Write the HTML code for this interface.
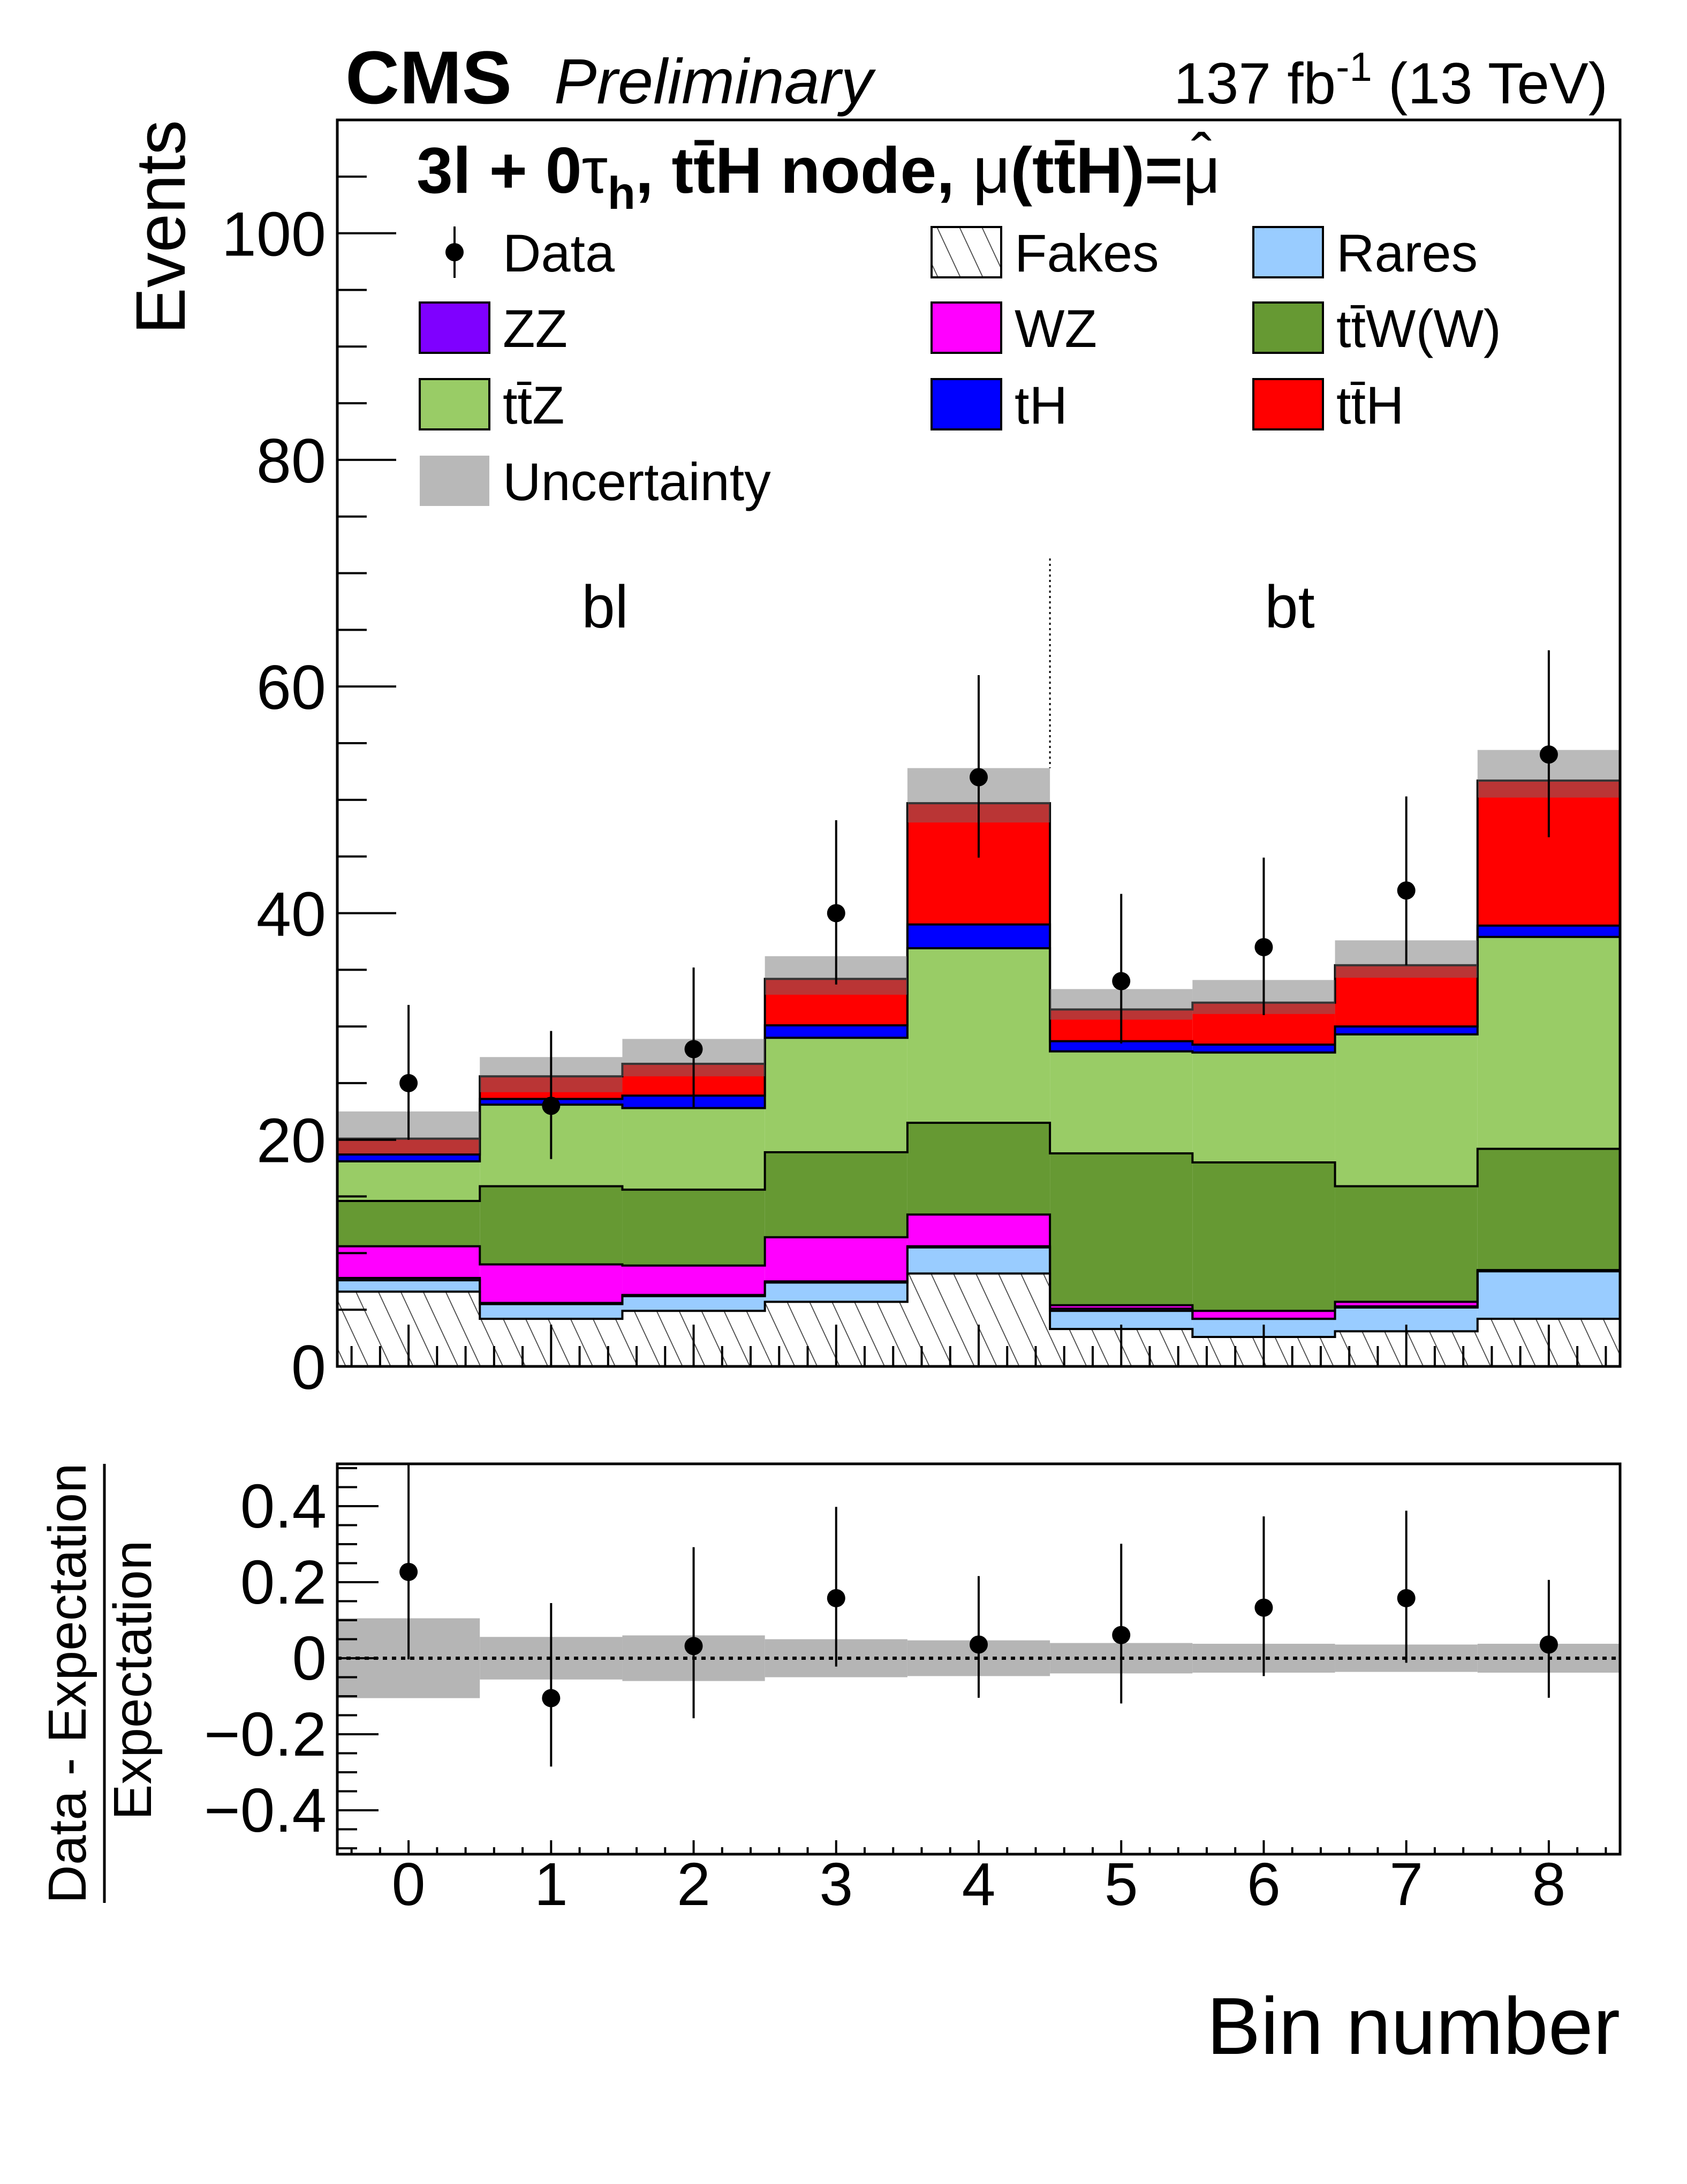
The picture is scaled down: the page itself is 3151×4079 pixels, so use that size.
<!DOCTYPE html>
<html><head><meta charset="utf-8">
<style>
html,body{margin:0;padding:0;background:#fff;}
svg{display:block;font-family:"Liberation Sans",sans-serif;}
</style></head>
<body>
<svg id="chart" width="3151" height="4079" viewBox="0 0 3151 4079" xmlns="http://www.w3.org/2000/svg">
<defs>
<pattern id="hatch" patternUnits="userSpaceOnUse" width="38" height="38" patternTransform="rotate(-25)">
<rect width="38" height="38" fill="#fff"/>
<line x1="0" y1="0" x2="0" y2="38" stroke="#444" stroke-width="3.5"/>
</pattern>
<clipPath id="mainclip"><rect x="630" y="224" width="2396" height="2328"/></clipPath>
<clipPath id="ratioclip"><rect x="630" y="2734" width="2396" height="729"/></clipPath>
</defs>
<g id="main"></g>
<g id="ratio"></g>
<g id="texts">
<text x="645" y="193" font-size="140" font-weight="bold">CMS</text>
<text x="1035" y="193" font-size="119" font-style="italic">Preliminary</text>
<text x="3003" y="193" font-size="109" text-anchor="end">137 fb<tspan dy="-42" font-size="76">-1</tspan><tspan dy="42"> (13 TeV)</tspan></text>
<text id="title" x="778" y="360" font-size="122" font-weight="bold">3l + 0<tspan font-weight="normal">τ</tspan><tspan dy="30" font-size="85">h</tspan><tspan dy="-30">, tt̄H node, </tspan><tspan font-weight="normal">μ</tspan>(tt̄H)=<tspan id="lastmu" font-weight="normal">μ</tspan></text>
<text id="muhat" x="2245" y="330" font-size="115" text-anchor="middle">ˆ</text>
<text x="1130" y="1172" font-size="112" text-anchor="middle">bl</text>
<text x="2409" y="1172" font-size="112" text-anchor="middle">bt</text>
<text transform="translate(345,224) rotate(-90)" font-size="131" text-anchor="end">Events</text>
<text x="3026" y="3836" font-size="151" text-anchor="end">Bin number</text>
<g>
<text transform="translate(160,3144) rotate(-90)" font-size="100" text-anchor="middle">Data - Expectation</text>
<line x1="195" y1="2734" x2="195" y2="3554" stroke="#000" stroke-width="5"/>
<text transform="translate(282,3138) rotate(-90)" font-size="100" text-anchor="middle">Expectation</text>
</g>
</g>
<g id="legend"></g>
</svg>
<script>
const bins = [0,1,2,3,4,5,6,7,8];
const fakes = [6.6,4.2,4.9,5.7,8.2,3.3,2.6,3.1,4.2];
const rares = [1.0,1.3,1.3,1.7,2.3,1.6,1.6,2.1,4.2];
const zz    = [0.2,0.1,0.1,0.1,0.1,0.2,0.0,0.1,0.0];
const wz    = [2.8,3.4,2.6,3.9,2.8,0.3,0.7,0.4,0.1];
const ttw   = [4.0,6.9,6.7,7.5,8.1,13.4,13.1,10.2,10.7];
const ttz   = [3.5,7.2,7.2,10.1,15.4,9.0,9.7,13.4,18.7];
const th    = [0.6,0.5,1.1,1.1,2.1,0.9,0.7,0.7,1.0];
const tth   = [1.4,2.0,2.8,4.1,10.7,2.8,3.7,5.4,12.8];
const uncUp = [2.4,1.7,2.2,2.0,3.1,1.8,2.0,2.2,2.7];
const uncDn = [1.3,1.4,1.1,1.4,1.7,0.9,1.0,1.1,1.5];
const dataVals = [25,23,28,40,52,34,37,42,54];
const dataErrUp = [6.9,6.6,7.2,8.2,9.0,7.7,7.9,8.3,9.2];
const dataErrDn = [5.0,4.7,5.2,6.3,7.1,5.5,6.0,6.6,7.3];
const ratioVals = [0.227,-0.105,0.032,0.158,0.036,0.061,0.133,0.158,0.036];
const ratioErrUp = [0.30,0.25,0.26,0.24,0.18,0.24,0.24,0.23,0.17];
const ratioErrDn = [0.23,0.18,0.19,0.18,0.14,0.18,0.18,0.17,0.14];
const ratioBand = [0.105,0.056,0.060,0.050,0.047,0.040,0.038,0.036,0.038];
const mainYTicks = [0,20,40,60,80,100];
const mainYTickLabels = ["0","20","40","60","80","100"];
const ratioYTicks = [-0.4,-0.2,0,0.2,0.4];
const ratioYTickLabels = ["\u22120.4","\u22120.2","0","0.2","0.4"];
const xTickLabels = ["0","1","2","3","4","5","6","7","8"];

const NS="http://www.w3.org/2000/svg";
const X = v => 630 + (v+0.5)*(2396/9);
const Y = v => 2552 - v*(2328/110);
const R = v => 3097 - v*710;
function mk(tag, parent, attrs){const e=document.createElementNS(NS,tag);for(const k in attrs)e.setAttribute(k,attrs[k]);parent.appendChild(e);return e;}

const main=document.getElementById('main');
const ratio=document.getElementById('ratio');
const legend=document.getElementById('legend');

try{const lm=document.getElementById('lastmu');const b=lm.getBBox();if(b&&b.width>0){document.getElementById('muhat').setAttribute('x',b.x+b.width/2);}}catch(e){}

const comps=[
 {n:'fakes',d:fakes,fill:'url(#hatch)'},
 {n:'rares',d:rares,fill:'#99ccff'},
 {n:'zz',d:zz,fill:'#7f00ff'},
 {n:'wz',d:wz,fill:'#ff00ff'},
 {n:'ttw',d:ttw,fill:'#669933'},
 {n:'ttz',d:ttz,fill:'#99cc66'},
 {n:'th',d:th,fill:'#0000ff'},
 {n:'tth',d:tth,fill:'#ff0000'}
];
const cum=bins.map(()=>0);
const gStack=mk('g',main,{'clip-path':'url(#mainclip)'});


const tops=[];
comps.forEach(c=>{
  const lo=cum.slice();
  bins.forEach((b,i)=>{cum[i]+=c.d[i];});
  const hi=cum.slice();
  tops.push({c,hi});
  bins.forEach((b,i)=>{
    const r=mk('rect',gStack,{x:X(b-0.5),y:Y(hi[i]),width:X(b+0.5)-X(b-0.5),height:Y(lo[i])-Y(hi[i]),fill:c.fill});
    
    
  });
});
tops.forEach(t=>{
  let d='';
  bins.forEach((b,i)=>{d+=(i?'L':'M')+X(b-0.5)+' '+Y(t.hi[i])+' L'+X(b+0.5)+' '+Y(t.hi[i])+' ';});
  const p=mk('path',gStack,{d:d,fill:'none',stroke:'#000','stroke-width':4});
  
  
});
const total=cum.slice();
bins.forEach((b,i)=>{
  const r=mk('rect',gStack,{x:X(b-0.5),y:Y(total[i]+uncUp[i]),width:X(b+0.5)-X(b-0.5),height:Y(total[i]-uncDn[i])-Y(total[i]+uncUp[i]),fill:'rgba(110,110,110,0.48)'});
  
  
});
const sep=mk('line',main,{x1:X(4.5),x2:X(4.5),y1:Y(71.3),y2:Y(Math.max(total[4]+uncUp[4],total[5]+uncUp[5])),stroke:'#000','stroke-width':3,'stroke-dasharray':'4 6'});


bins.forEach((b,i)=>{
  const g=mk('g',main,{});
  
  
  mk('line',g,{x1:X(b),x2:X(b),y1:Y(dataVals[i]+dataErrUp[i]),y2:Y(dataVals[i]-dataErrDn[i]),stroke:'#000','stroke-width':4});
  mk('circle',g,{cx:X(b),cy:Y(dataVals[i]),r:17,fill:'#000'});
});
const fr=mk('rect',main,{x:630,y:224,width:2396,height:2328,fill:'none',stroke:'#000','stroke-width':5});


for(let v=0;v<=110;v+=5){
  const maj=v%20===0;
  const t=mk('line',main,{x1:630,x2:630+(maj?110:55),y1:Y(v),y2:Y(v),stroke:'#000','stroke-width':4});
  
  
}
mainYTicks.forEach((v,i)=>{
  const t=mk('text',main,{x:609,y:Y(v)+42,'font-size':117,'text-anchor':'end'});
  t.textContent=mainYTickLabels[i];
  
  
});
for(let k=-2;k<=42;k++){
  const v=k*0.2; if(v<-0.5||v>8.5) continue;
  const maj=k%5===0;
  const t=mk('line',main,{x1:X(v),x2:X(v),y1:2552,y2:2552-(maj?78:38),stroke:'#000','stroke-width':4});
  
  
  const t2=mk('line',ratio,{x1:X(v),x2:X(v),y1:3463,y2:3463-(maj?26:13),stroke:'#000','stroke-width':4});
  
  
}
const gR=mk('g',ratio,{'clip-path':'url(#ratioclip)'});


bins.forEach((b,i)=>{
  const r=mk('rect',gR,{x:X(b-0.5),y:R(ratioBand[i]),width:X(b+0.5)-X(b-0.5),height:R(-ratioBand[i])-R(ratioBand[i]),fill:'#b5b5b5'});
  
  
});
const zl=mk('line',gR,{x1:630,x2:3026,y1:R(0),y2:R(0),stroke:'#000','stroke-width':6,'stroke-dasharray':'8 9'});


bins.forEach((b,i)=>{
  const g=mk('g',gR,{});
  
  
  mk('line',g,{x1:X(b),x2:X(b),y1:R(ratioVals[i]+ratioErrUp[i]),y2:R(ratioVals[i]-ratioErrDn[i]),stroke:'#000','stroke-width':4});
  mk('circle',g,{cx:X(b),cy:R(ratioVals[i]),r:17,fill:'#000'});
});
const rf=mk('rect',ratio,{x:630,y:2734,width:2396,height:729,fill:'none',stroke:'#000','stroke-width':5});


for(let k=-10;k<=10;k++){
  const v=k*0.05; const y=R(v); if(y<2734||y>3463) continue;
  const maj=k%4===0;
  const t=mk('line',ratio,{x1:630,x2:630+(maj?77:37),y1:y,y2:y,stroke:'#000','stroke-width':4});
  
  
}
ratioYTicks.forEach((v,i)=>{
  const t=mk('text',ratio,{x:610,y:R(v)+40,'font-size':116,'text-anchor':'end'});
  t.textContent=ratioYTickLabels[i];
  
  
});
bins.forEach((b,i)=>{
  const t=mk('text',ratio,{x:X(b),y:3558,'font-size':113,'text-anchor':'middle'});
  t.textContent=xTickLabels[i];
  
  
});
const legItems=[
 {n:'data',label:'Data',col:0,row:0,type:'data'},
 {n:'fakes',label:'Fakes',col:1,row:0,fill:'url(#hatch)'},
 {n:'rares',label:'Rares',col:2,row:0,fill:'#99ccff'},
 {n:'zz',label:'ZZ',col:0,row:1,fill:'#7f00ff'},
 {n:'wz',label:'WZ',col:1,row:1,fill:'#ff00ff'},
 {n:'ttw',label:'tt̄W(W)',col:2,row:1,fill:'#669933'},
 {n:'ttz',label:'tt̄Z',col:0,row:2,fill:'#99cc66'},
 {n:'th',label:'tH',col:1,row:2,fill:'#0000ff'},
 {n:'tth',label:'tt̄H',col:2,row:2,fill:'#ff0000'},
 {n:'uncertainty',label:'Uncertainty',col:0,row:3,fill:'#b8b8b8',noborder:true}
];
const colX=[784,1740,2341], rowY=[471,612,755,898];
legItems.forEach(it=>{
  const g=mk('g',legend,{});
  
  
  const x=colX[it.col], y=rowY[it.row];
  if(it.type==='data'){
    mk('line',g,{x1:x+65,x2:x+65,y1:y-48,y2:y+48,stroke:'#000','stroke-width':4});
    mk('circle',g,{cx:x+65,cy:y,r:17,fill:'#000'});
  } else {
    mk('rect',g,{x:x,y:y-47,width:130,height:94,fill:it.fill,stroke:it.noborder?'none':'#000','stroke-width':4});
  }
  const t=mk('text',g,{x:x+155,y:y+36,'font-size':99});
  t.textContent=it.label;
});
</script>
</body></html>
